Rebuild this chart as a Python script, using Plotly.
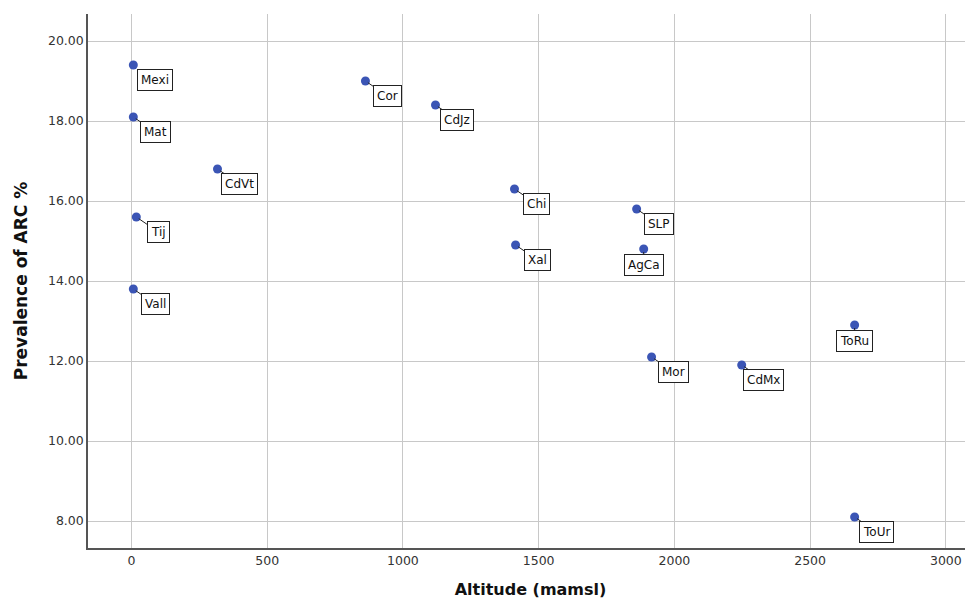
import plotly.graph_objects as go

# Data
sites = ["Mexi", "Mat", "CdVt", "Tij", "Vall", "Cor", "CdJz", "Chi", "Xal",
         "SLP", "AgCa", "Mor", "CdMx", "ToRu", "ToUr"]
altitude = [7, 7, 317, 18, 7, 862, 1120, 1411, 1415, 1861, 1887, 1916, 2248, 2664, 2664]
prevalence = [19.4, 18.1, 16.8, 15.6, 13.8, 19.0, 18.4, 16.3, 14.9, 15.8, 14.8, 12.1, 11.9, 12.9, 8.1]

x_ticks = [0, 500, 1000, 1500, 2000, 2500, 3000]
y_ticks = [8, 10, 12, 14, 16, 18, 20]

# label placement (styling)
centered = {"AgCa", "ToRu"}

FONT = "DejaVu Sans"

fig = go.Figure()
fig.add_trace(go.Scatter(
    x=altitude, y=prevalence, mode="markers",
    marker=dict(color="#3B55B5", size=9),
    hoverinfo="skip", showlegend=False,
))

for name, xv, yv in zip(sites, altitude, prevalence):
    if name in centered:
        ax, ay = 0, 16
    else:
        ax, ay = 22, 15
    fig.add_annotation(
        x=xv, y=yv, text=name, showarrow=True, arrowhead=0, arrowwidth=1,
        arrowcolor="#222", ax=ax, ay=ay, standoff=3,
        font=dict(family=FONT, size=12, color="#111"),
        bgcolor="white", bordercolor="#222", borderwidth=1, borderpad=3,
    )

# page body has an 8px offset; compensate in size and margins
fig.update_layout(
    width=965, height=594,
    margin=dict(l=80, r=0, t=6, b=54),
    plot_bgcolor="white", paper_bgcolor="white",
    font=dict(family=FONT, color="#333"),
)
fig.update_xaxes(
    range=[-160, 3100], tickvals=x_ticks, ticktext=[str(v) for v in x_ticks],
    showgrid=True, gridcolor="#c8c8c8", gridwidth=1,
    showline=True, linecolor="#555", linewidth=1.5, zeroline=False,
    ticks="", tickfont=dict(size=12.5, color="#333"),
    title=dict(text="<b>Altitude (mamsl)</b>", font=dict(size=16, color="#111"), standoff=17),
)
fig.update_yaxes(
    range=[7.325, 20.675], tickvals=y_ticks, ticktext=[f"{v:.2f}" for v in y_ticks],
    showgrid=True, gridcolor="#c8c8c8", gridwidth=1,
    showline=True, linecolor="#555", linewidth=1.5, zeroline=False,
    ticks="", tickfont=dict(size=12.5, color="#333"),
    title=dict(text="<b>Prevalence of ARC %</b>", font=dict(size=17, color="#111"), standoff=16),
)

fig.write_html("out.html")
